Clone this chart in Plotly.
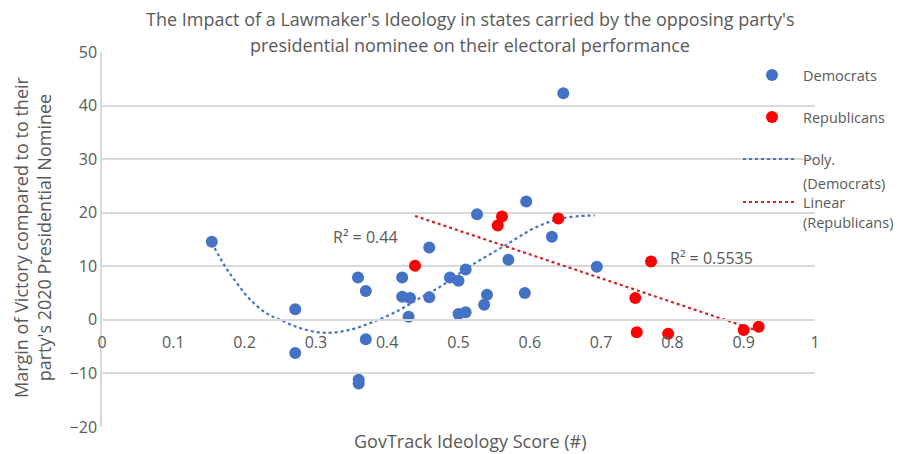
import plotly.graph_objects as go

# Democrats: GovTrack ideology score vs margin relative to 2020 nominee
dem_x = [0.154, 0.271, 0.271, 0.359, 0.370, 0.370, 0.360, 0.360, 0.421, 0.421, 0.432,
         0.430, 0.459, 0.459, 0.488, 0.500, 0.510, 0.500, 0.510, 0.526, 0.540, 0.536,
         0.570, 0.595, 0.593, 0.631, 0.647, 0.694]
dem_y = [14.6, 2.0, -6.2, 7.9, 5.4, -3.6, -11.2, -11.9, 7.9, 4.3, 4.1,
         0.6, 4.2, 13.5, 7.9, 7.3, 9.4, 1.1, 1.4, 19.7, 4.7, 2.8,
         11.2, 22.1, 5.0, 15.5, 42.3, 9.9]

# Republicans
rep_x = [0.439, 0.555, 0.561, 0.640, 0.770, 0.748, 0.750, 0.794, 0.900, 0.921]
rep_y = [10.1, 17.6, 19.3, 18.9, 10.9, 4.1, -2.3, -2.6, -1.9, -1.3]

# trendlines
poly_x = [0.154, 0.1725, 0.189, 0.2076, 0.231, 0.250, 0.278, 0.310, 0.343, 0.380,
          0.418, 0.446, 0.477, 0.516, 0.563, 0.609, 0.647, 0.691]
poly_y = [14.4, 10.0, 6.9, 3.8, 1.2, 0.0, -1.55, -2.4, -2.0, -0.4,
          1.9, 4.1, 6.4, 10.0, 13.7, 17.3, 19.0, 19.5]
lin_x = [0.439, 0.921]
lin_y = [19.4, -2.1]

x_ticks = [0, 0.1, 0.2, 0.3, 0.4, 0.5, 0.6, 0.7, 0.8, 0.9, 1]
x_labels = ["0", "0.1", "0.2", "0.3", "0.4", "0.5", "0.6", "0.7", "0.8", "0.9", "1"]
y_ticks = [-20, -10, 0, 10, 20, 30, 40, 50]

BLUE = "#4472C4"
RED = "#FF0000"
RED_LINE = "#D0222A"
GREY = "#595959"
GRID = "#D9D9D9"
FONT = "Open Sans"

fig = go.Figure()

fig.add_trace(go.Scatter(x=poly_x, y=poly_y, mode="lines", line_shape="spline",
                         line=dict(color=BLUE, width=2.2, dash="dot"),
                         name="Poly. (Democrats)"))
fig.add_trace(go.Scatter(x=lin_x, y=lin_y, mode="lines",
                         line=dict(color=RED_LINE, width=2.2, dash="dot"),
                         name="Linear (Republicans)"))
fig.add_trace(go.Scatter(x=dem_x, y=dem_y, mode="markers",
                         marker=dict(color=BLUE, size=12), name="Democrats"))
fig.add_trace(go.Scatter(x=rep_x, y=rep_y, mode="markers",
                         marker=dict(color=RED, size=12), name="Republicans"))

# the page body adds an 8px offset, so the margins are 8px smaller than the target
fig.update_layout(
    width=901, height=454,
    margin=dict(l=94, r=94, t=44, b=35, autoexpand=False),
    plot_bgcolor="white", paper_bgcolor="white",
    showlegend=False,
    font=dict(family=FONT, color=GREY, size=15),
)

fig.update_xaxes(
    range=[0, 1], tickvals=x_ticks, ticktext=x_labels,
    anchor="free", position=20 / 70,
    showgrid=False, zeroline=False,
    showline=True, linecolor=GRID, linewidth=1.5,
    ticks="", ticklabelstandoff=8,
    tickfont=dict(size=16, color=GREY),
)
fig.update_yaxes(
    range=[-20, 50], tickvals=y_ticks,
    showgrid=True, gridcolor=GRID, gridwidth=1.5,
    zeroline=False, showline=True, linecolor=GRID, linewidth=1.5,
    ticks="", tickfont=dict(size=16, color=GREY),
)


def px_x(p):
    return (p - 102) / 713


def px_y(p):
    return (427 - p) / 375


ann = []
# chart title (two lines)
ann.append(dict(text="The Impact of a Lawmaker's Ideology in states carried by the opposing party's",
                xref="paper", yref="paper", x=px_x(470), y=px_y(19),
                xanchor="center", yanchor="middle", showarrow=False, font=dict(size=18)))
ann.append(dict(text="presidential nominee on their electoral performance",
                xref="paper", yref="paper", x=px_x(470), y=px_y(45),
                xanchor="center", yanchor="middle", showarrow=False, font=dict(size=18)))
# axis titles
ann.append(dict(text="Margin of Victory compared to to their<br>party's 2020 Presidential Nominee",
                xref="paper", yref="paper", x=px_x(33), y=px_y(237),
                xanchor="center", yanchor="middle", textangle=-90, showarrow=False,
                font=dict(size=18)))
ann.append(dict(text="GovTrack Ideology Score (#)",
                xref="paper", yref="paper", x=px_x(470), y=px_y(441),
                xanchor="center", yanchor="middle", showarrow=False, font=dict(size=18)))
# R-squared labels
ann.append(dict(text="R² = 0.44", x=0.369, y=15.5, xanchor="center", yanchor="middle",
                showarrow=False, font=dict(size=16)))
ann.append(dict(text="R² = 0.5535", x=0.855, y=11.6, xanchor="center", yanchor="middle",
                showarrow=False, font=dict(size=16)))

# manual legend
leg_lines = [("Democrats", 75), ("Republicans", 117), ("Poly.", 159), ("(Democrats)", 183),
             ("Linear", 202), ("(Republicans)", 223)]
for txt, yy in leg_lines:
    ann.append(dict(text=txt, xref="paper", yref="paper", x=px_x(801), y=px_y(yy),
                    xanchor="left", yanchor="middle", showarrow=False, font=dict(size=14.5)))
fig.update_layout(annotations=ann)

shapes = []
for col, yy in [(BLUE, 75), (RED, 117)]:
    shapes.append(dict(type="circle", xref="paper", yref="paper",
                       xsizemode="pixel", ysizemode="pixel",
                       xanchor=px_x(772), yanchor=px_y(yy),
                       x0=-6, x1=6, y0=-6, y1=6,
                       fillcolor=col, line=dict(width=0)))
for col, yy in [(BLUE, 159), (RED_LINE, 202)]:
    shapes.append(dict(type="line", xref="paper", yref="paper",
                       x0=px_x(743), x1=px_x(795), y0=px_y(yy), y1=px_y(yy),
                       line=dict(color=col, width=2.2, dash="dot")))
fig.update_layout(shapes=shapes)

fig.write_html("out.html")
